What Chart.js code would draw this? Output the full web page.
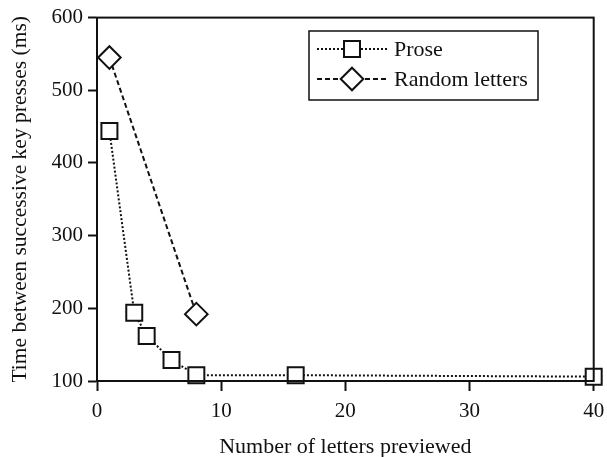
<!DOCTYPE html>
<html>
<head>
<meta charset="utf-8">
<script src="https://cdn.jsdelivr.net/npm/chart.js@4/dist/chart.umd.min.js"></script>
<style>
  html, body { margin: 0; padding: 0; background: #fff; }
  #wrap { width: 607px; height: 457px; position: relative; }
</style>
</head>
<body>
<div id="wrap"><canvas id="chart" width="607" height="457"></canvas></div>
<script>
const proseX = [1, 3, 4, 6, 8, 16, 40];
const proseY = [444, 194, 162, 129, 108, 108, 106];
const randomX = [1, 8];
const randomY = [545, 192];
const xTicks = [0, 10, 20, 30, 40];
const yTicks = [100, 200, 300, 400, 500, 600];

const FONT = "'Liberation Serif', 'DejaVu Serif', serif";
const INK = "#111";

function toPoints(xs, ys) {
  return xs.map((x, i) => ({ x: x, y: ys[i] }));
}

const legendItems = [
  { label: "Prose", dash: [2, 2], style: "rect" },
  { label: "Random letters", dash: [5, 3], style: "rectRot" },
];

// frame around the plot + boxed legend with line+marker samples
const framePlugin = {
  id: "frame",
  afterDraw(chart) {
    const ctx = chart.ctx;
    const a = chart.chartArea;
    ctx.save();
    ctx.strokeStyle = INK;
    ctx.lineWidth = 2;
    ctx.strokeRect(a.left, a.top, a.right - a.left, a.bottom - a.top);

    const bx = 309, by = 31, bw = 229, bh = 69;
    ctx.fillStyle = "#fff";
    ctx.fillRect(bx, by, bw, bh);
    ctx.lineWidth = 1.5;
    ctx.strokeRect(bx, by, bw, bh);

    legendItems.forEach((item, i) => {
      const y = by + 18 + i * 30;
      ctx.setLineDash(item.dash);
      ctx.lineWidth = 2;
      ctx.beginPath();
      ctx.moveTo(bx + 8, y);
      ctx.lineTo(bx + 78, y);
      ctx.stroke();
      ctx.setLineDash([]);
      ctx.fillStyle = "#fff";
      Chart.helpers.drawPoint(ctx, {
        pointStyle: item.style,
        radius: 11.3,
        borderWidth: 2,
        rotation: 0,
      }, bx + 43, y);
      ctx.fillStyle = INK;
      ctx.font = "22px " + FONT;
      ctx.textBaseline = "middle";
      ctx.textAlign = "left";
      ctx.fillText(item.label, bx + 85, y + 1);
    });
    ctx.restore();
  },
};

new Chart(document.getElementById("chart"), {
  type: "line",
  data: {
    datasets: [
      {
        label: "Prose",
        data: toPoints(proseX, proseY),
        borderColor: INK,
        borderWidth: 2,
        borderDash: [2, 2],
        pointStyle: "rect",
        pointRadius: 11.3,
        pointBorderWidth: 2,
        pointBackgroundColor: "#fff",
        pointBorderColor: INK,
        clip: false,
      },
      {
        label: "Random letters",
        data: toPoints(randomX, randomY),
        borderColor: INK,
        borderWidth: 2,
        borderDash: [5, 3],
        pointStyle: "rectRot",
        pointRadius: 11.3,
        pointBorderWidth: 2,
        pointBackgroundColor: "#fff",
        pointBorderColor: INK,
        clip: false,
      },
    ],
  },
  options: {
    responsive: false,
    animation: false,
    devicePixelRatio: 1,
    layout: { padding: { top: 13, right: 0, left: 0, bottom: 0 } },
    plugins: {
      legend: { display: false },
      tooltip: { enabled: false },
    },
    scales: {
      x: {
        type: "linear",
        min: 0,
        max: 40,
        afterBuildTicks(scale) {
          scale.ticks = xTicks.map((v) => ({ value: v }));
        },
        afterFit(scale) {
          scale.height = 76;
          scale.paddingLeft = 0;
          scale.paddingRight = 7;
        },
        grid: {
          drawOnChartArea: false,
          drawTicks: true,
          tickLength: 10,
          tickWidth: 2,
          color: INK,
        },
        border: { display: true, color: INK, width: 2 },
        ticks: {
          color: INK,
          padding: 8,
          maxRotation: 0,
          font: { family: FONT, size: 21 },
        },
        title: {
          display: true,
          text: "Number of letters previewed",
          color: INK,
          font: { family: FONT, size: 22 },
          padding: { top: 0, bottom: -3 },
        },
      },
      y: {
        type: "linear",
        min: 100,
        max: 600,
        afterBuildTicks(scale) {
          scale.ticks = yTicks.map((v) => ({ value: v }));
        },
        afterFit(scale) {
          scale.width = 97;
        },
        grid: {
          drawOnChartArea: false,
          drawTicks: true,
          tickLength: 9,
          tickWidth: 2,
          color: INK,
        },
        border: { display: true, color: INK, width: 2 },
        ticks: {
          color: INK,
          padding: 5,
          font: { family: FONT, size: 21 },
        },
        title: {
          display: true,
          text: "Time between successive key presses (ms)",
          color: INK,
          font: { family: FONT, size: 21.5 },
          padding: { top: 7, bottom: 0 },
        },
      },
    },
  },
  plugins: [framePlugin],
});
</script>
</body>
</html>
